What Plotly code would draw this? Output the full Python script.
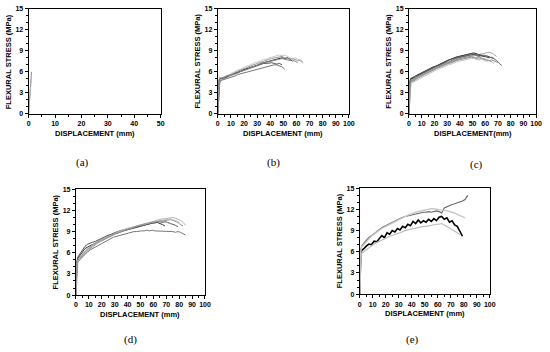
import plotly.graph_objects as go

# ---------------- data ----------------
X_A = [0, 0.2, 0.4, 0.6, 0.8, 1.0, 1.1]
A_CURVES = [
    [0, 1.2, 2.5, 3.6, 4.6, 5.4, 6.0],
    [0, 1.0, 2.2, 3.3, 4.2, 5.0],
]
A_COLORS = ["#8c8c8c", "#b0b0b0"]

X_GRID = [0, 0.4, 0.8, 1.5, 3, 5, 7, 9, 11, 13, 15, 17, 19, 21, 23, 25, 27, 29, 31, 33,
          35, 37, 39, 41, 43, 45, 47, 49, 51, 53, 55, 57, 59, 61, 63, 65, 67, 69, 71, 73,
          75, 77, 79, 81, 83, 85]

B_CURVES = [
    [0, 2.5, 4.6, 5.0, 5.0, 5.1, 5.3, 5.5, 5.6, 5.8, 5.9, 6.1, 6.2, 6.4, 6.5, 6.6, 6.8, 6.9, 7.0, 7.2,
     7.3, 7.4, 7.6, 7.7, 7.8, 7.9, 8.0, 8.0, 7.9, 8.0, 7.8, 7.5],
    [0, 2.0, 4.2, 4.9, 5.1, 5.2, 5.5, 5.6, 5.9, 6.0, 6.3, 6.3, 6.6, 6.7, 6.9, 7.0, 7.2, 7.3, 7.5, 7.6,
     7.8, 7.8, 8.0, 8.1, 8.2, 8.3, 8.4, 8.3, 8.4, 8.2, 8.1, 7.9, 8.0, 7.8, 7.6, 7.2],
    [0, 1.8, 3.8, 4.6, 4.8, 4.9, 5.0, 5.2, 5.3, 5.4, 5.6, 5.7, 5.8, 5.9, 6.0, 6.1, 6.3, 6.4, 6.5, 6.6,
     6.7, 6.8, 6.9, 6.9, 7.0, 7.0, 6.9, 6.7, 6.4],
    [0, 2.2, 4.4, 5.0, 5.1, 5.2, 5.4, 5.5, 5.6, 5.8, 5.9, 6.0, 6.2, 6.3, 6.4, 6.6, 6.7, 6.8, 7.0, 7.1,
     7.2, 7.2, 7.3, 7.3, 7.2, 7.1, 7.2, 7.0],
    [0, 2.4, 4.8, 5.2, 5.1, 5.3, 5.4, 5.6, 5.7, 5.9, 6.1, 6.2, 6.4, 6.5, 6.7, 6.8, 7.0, 7.1, 7.3, 7.4,
     7.5, 7.7, 7.8, 7.9, 8.0, 8.1, 8.1, 8.2, 8.0, 7.9, 7.8, 7.9, 7.8, 7.6, 7.7, 7.4],
    [0, 2.0, 4.0, 4.7, 4.9, 5.0, 5.2, 5.4, 5.5, 5.7, 5.8, 6.0, 6.1, 6.3, 6.4, 6.6, 6.7, 6.9, 7.0, 7.2,
     7.3, 7.4, 7.5, 7.6, 7.7, 7.8, 7.9, 7.9, 7.8, 7.7, 7.6, 7.7, 7.5, 7.3],
]
B_COLORS = ["#111111", "#c8c8c8", "#777777", "#555555", "#999999", "#888888"]

C_CURVES = [
    [0, 2.5, 4.6, 5.0, 5.1, 5.4, 5.6, 5.8, 6.0, 6.2, 6.3, 6.5, 6.7, 6.8, 7.0, 7.2, 7.3, 7.5, 7.7, 7.8,
     8.0, 8.1, 8.2, 8.3, 8.4, 8.5, 8.6, 8.7, 8.7, 8.6, 8.4, 8.3, 8.2],
    [0, 2.2, 4.4, 4.9, 5.0, 5.2, 5.4, 5.6, 5.8, 6.0, 6.2, 6.3, 6.5, 6.7, 6.8, 7.0, 7.1, 7.3, 7.4, 7.6,
     7.7, 7.9, 8.0, 8.1, 8.2, 8.3, 8.4, 8.5, 8.5, 8.4, 8.3, 8.4, 8.2, 8.3, 8.1, 8.0, 7.9],
    [0, 2.0, 4.2, 4.7, 4.8, 5.0, 5.3, 5.5, 5.7, 5.9, 6.0, 6.2, 6.4, 6.5, 6.7, 6.9, 7.0, 7.2, 7.3, 7.5,
     7.6, 7.7, 7.9, 8.0, 8.1, 8.2, 8.3, 8.3, 8.4, 8.3, 8.2, 8.3, 8.4, 8.2, 8.0, 8.1, 7.9, 7.6, 7.2, 6.9],
    [0, 1.8, 4.0, 4.5, 4.6, 4.9, 5.1, 5.3, 5.5, 5.7, 5.9, 6.1, 6.2, 6.4, 6.6, 6.7, 6.9, 7.0, 7.2, 7.3,
     7.5, 7.6, 7.7, 7.8, 7.9, 8.0, 8.1, 8.1, 8.0, 7.9, 7.8, 7.9, 7.8, 7.7, 7.6, 7.7, 7.5, 7.4, 7.3],
    [0, 2.3, 4.5, 4.8, 4.9, 5.1, 5.3, 5.5, 5.7, 5.9, 6.1, 6.3, 6.4, 6.6, 6.8, 6.9, 7.1, 7.2, 7.4, 7.5,
     7.7, 7.8, 7.9, 8.0, 8.1, 8.2, 8.2, 8.3, 8.3, 8.4, 8.4, 8.5, 8.6, 8.7, 8.8, 8.7, 8.5, 8.2],
    [0, 1.6, 3.8, 4.4, 4.5, 4.7, 4.9, 5.1, 5.3, 5.5, 5.7, 5.9, 6.0, 6.2, 6.4, 6.5, 6.7, 6.8, 7.0, 7.1,
     7.3, 7.4, 7.5, 7.6, 7.7, 7.8, 7.8, 7.9, 7.9, 7.8, 7.7, 7.8, 7.6, 7.5, 7.6, 7.4, 7.2],
    [0, 2.4, 4.8, 5.1, 5.2, 5.3, 5.5, 5.7, 5.9, 6.1, 6.3, 6.4, 6.6, 6.8, 6.9, 7.1, 7.3, 7.4, 7.6, 7.8,
     7.9, 8.0, 8.2, 8.3, 8.4, 8.5, 8.5, 8.6, 8.5, 8.4, 8.5, 8.3, 8.2, 8.1, 8.0],
    [0, 2.0, 4.3, 4.6, 4.7, 5.0, 5.2, 5.4, 5.6, 5.8, 6.0, 6.1, 6.3, 6.5, 6.6, 6.8, 6.9, 7.1, 7.2, 7.4,
     7.5, 7.6, 7.8, 7.9, 8.0, 8.1, 8.1, 8.2, 8.1, 8.0, 8.1, 8.0, 7.9, 7.8, 7.7, 7.5],
]
C_COLORS = ["#222222", "#444444", "#666666", "#888888", "#aaaaaa", "#c0c0c0", "#555555", "#999999"]

D_CURVES = [
    [0, 2.6, 4.6, 5.2, 5.6, 6.2, 6.6, 6.8, 7.0, 7.2, 7.4, 7.6, 7.7, 7.9, 8.1, 8.3, 8.4, 8.6, 8.7, 8.9,
     9.0, 9.1, 9.3, 9.4, 9.5, 9.6, 9.7, 9.8, 9.9, 10.0, 10.1, 10.2, 10.2, 10.3, 10.3, 10.2, 10.0, 9.8],
    [0, 2.2, 4.2, 4.8, 5.0, 5.4, 5.8, 6.1, 6.4, 6.6, 6.9, 7.1, 7.3, 7.5, 7.7, 7.9, 8.0, 8.2, 8.3, 8.4,
     8.6, 8.7, 8.8, 8.8, 8.9, 9.0, 9.0, 9.1, 9.1, 9.1, 9.2, 9.1, 9.2, 9.1, 9.1, 9.0, 9.1, 9.0, 9.1, 9.0,
     9.0, 8.9, 9.0, 8.9, 8.7, 8.5],
    [0, 2.4, 4.5, 5.0, 5.3, 5.8, 6.3, 6.6, 6.9, 7.2, 7.4, 7.6, 7.8, 8.0, 8.2, 8.4, 8.6, 8.8, 8.9, 9.1,
     9.2, 9.3, 9.5, 9.6, 9.7, 9.8, 9.9, 10.0, 10.1, 10.2, 10.3, 10.4, 10.5, 10.6, 10.7, 10.7, 10.8, 10.8,
     10.9, 11.0, 11.0, 10.9, 10.8, 10.6, 10.3, 9.9],
    [0, 2.0, 4.0, 4.7, 5.0, 5.5, 5.9, 6.3, 6.6, 6.9, 7.2, 7.4, 7.6, 7.8, 8.0, 8.2, 8.4, 8.5, 8.7, 8.8,
     9.0, 9.1, 9.2, 9.4, 9.5, 9.6, 9.7, 9.8, 9.9, 10.0, 10.1, 10.2, 10.3, 10.3, 10.4, 10.5, 10.5, 10.6,
     10.6, 10.7, 10.6, 10.5, 10.3, 10.0, 9.8],
    [0, 2.8, 4.8, 5.4, 5.8, 6.4, 6.9, 7.2, 7.4, 7.5, 7.6, 7.8, 7.9, 8.1, 8.3, 8.5, 8.6, 8.8, 8.9, 9.0,
     9.1, 9.2, 9.3, 9.4, 9.5, 9.6, 9.7, 9.8, 9.9, 10.0, 10.0, 10.1, 10.2, 10.2, 10.3, 10.4, 10.3, 10.4,
     10.3, 10.2, 10.0, 9.9, 9.7],
    [0, 2.3, 4.3, 4.9, 5.1, 5.6, 6.0, 6.4, 6.7, 7.0, 7.3, 7.5, 7.7, 7.9, 8.1, 8.3, 8.5, 8.7, 8.8, 9.0,
     9.1, 9.3, 9.4, 9.5, 9.6, 9.7, 9.8, 9.9, 10.0, 10.1, 10.2, 10.3, 10.4, 10.4, 10.5, 10.6, 10.6, 10.7,
     10.7, 10.8, 10.7, 10.6, 10.4, 10.1],
    [0, 2.5, 4.4, 5.0, 5.2, 5.7, 6.1, 6.5, 6.8, 7.1, 7.3, 7.5, 7.7, 7.9, 8.1, 8.3, 8.4, 8.6, 8.8, 8.9,
     9.0, 9.2, 9.3, 9.4, 9.5, 9.6, 9.8, 9.9, 10.0, 10.1, 10.2, 10.2, 10.3, 10.4, 10.4, 10.5, 10.5, 10.4,
     10.3, 10.2, 10.0],
]
D_COLORS = ["#333333", "#777777", "#b0b0b0", "#888888", "#555555", "#c0c0c0", "#999999"]

E_CURVES = [
    [0, 3.5, 5.6, 6.2, 6.4, 6.8, 7.1, 7.0, 7.5, 7.4, 7.9, 8.3, 8.0, 8.7, 8.5, 9.0, 8.8, 9.3, 9.1, 9.6,
     9.4, 9.9, 9.7, 10.3, 10.0, 10.5, 10.1, 10.4, 10.2, 10.6, 10.3, 10.7, 10.4, 10.9, 11.0, 10.6, 10.8,
     10.2, 10.4, 9.8, 9.6, 9.0, 8.2],
    [0, 4.0, 6.2, 6.8, 7.2, 7.6, 8.0, 8.3, 8.6, 8.8, 9.1, 9.4, 9.6, 9.8, 10.0, 10.2, 10.4, 10.5, 10.7,
     10.9, 11.0, 11.1, 11.2, 11.3, 11.4, 11.4, 11.5, 11.6, 11.6, 11.7, 11.6, 11.7, 11.8, 11.7, 11.5,
     12.2, 12.4, 12.5, 12.7, 12.8, 12.9, 13.0, 13.2, 13.4, 14.0],
    [0, 3.8, 6.0, 6.7, 7.0, 7.4, 7.9, 8.2, 8.5, 8.8, 9.0, 9.3, 9.5, 9.7, 9.9, 10.1, 10.3, 10.5, 10.7,
     10.9, 11.0, 11.2, 11.3, 11.5, 11.6, 11.7, 11.8, 11.9, 12.0, 12.0, 12.1, 12.1, 12.0, 12.0, 11.9,
     11.9, 11.8, 11.8, 11.6, 11.5, 11.3, 11.1, 11.0, 10.8],
    [0, 3.0, 5.2, 5.8, 6.0, 6.3, 6.6, 6.9, 7.1, 7.3, 7.5, 7.7, 7.9, 8.0, 8.2, 8.3, 8.5, 8.6, 8.7, 8.9,
     9.0, 9.1, 9.2, 9.3, 9.3, 9.4, 9.5, 9.6, 9.6, 9.7, 9.8, 9.8, 9.9, 9.9, 10.0, 9.8, 9.6, 9.4, 9.2,
     9.0, 8.7, 8.4],
]
E_COLORS = ["#000000", "#666666", "#c8c8c8", "#bdbdbd"]
E_WIDTHS = [1.6, 1.2, 1.4, 1.2]

Y_TICKS = [0, 3, 6, 9, 12, 15]
Y_TITLE = "FLEXURAL STRESS (MPa)"
X_TITLES = ["DISPLACEMENT (mm)", "DISPLACEMENT (mm)", "DISPLACEMENT(mm)",
            "DISPLACEMENT (mm)", "DISPLACEMENT (mm)"]
CAPTIONS = ["(a)", "(b)", "(c)", "(d)", "(e)"]

# ---------------- layout helpers ----------------
W, H = 550, 352
def fx(px):
    return px / W
def fy(py):
    return 1 - py / H

# panel boxes in pixels: left, right, top, bottom
PANELS = [
    (27, 161, 5, 112),
    (219, 352, 5, 112),
    (413, 542, 5, 112),
    (75, 206, 189, 297),
    (363, 495, 188, 296),
]
X_MAX = [50, 100, 100, 100, 100]

fig = go.Figure()

FONT = "Liberation Sans"

def add_curves(idx, xs_list, curves, colors, widths=None):
    xa = "x" if idx == 0 else f"x{idx+1}"
    ya = "y" if idx == 0 else f"y{idx+1}"
    for k, (ys, col) in enumerate(zip(curves, colors)):
        xs = xs_list[:len(ys)]
        w = widths[k] if widths else 1
        fig.add_trace(go.Scatter(x=xs, y=ys, mode="lines",
                                 line=dict(color=col, width=w),
                                 xaxis=xa, yaxis=ya, showlegend=False,
                                 hoverinfo="skip", cliponaxis=False))

add_curves(0, X_A, A_CURVES, A_COLORS)
add_curves(1, X_GRID, B_CURVES, B_COLORS)
add_curves(2, X_GRID, C_CURVES, C_COLORS)
add_curves(3, X_GRID, D_CURVES, D_COLORS)
add_curves(4, X_GRID, E_CURVES, E_COLORS, E_WIDTHS)

tickfont = dict(family=FONT, size=7, color="black", weight="bold")
annotations = []
for i, (l, r, t, b) in enumerate(PANELS):
    suffix = "" if i == 0 else str(i + 1)
    fig.layout["xaxis" + suffix] = dict(
        domain=[fx(l), fx(r)], range=[0, X_MAX[i]], dtick=10,
        anchor="y" + suffix, ticks="outside", ticklen=3, tickwidth=1,
        tickcolor="black", showline=True, linecolor="black", linewidth=1,
        mirror=True, showgrid=False, zeroline=False, tickfont=tickfont,
        minor=dict(dtick=5, ticks="outside", ticklen=2, tickcolor="black"),
        fixedrange=True,
    )
    fig.layout["yaxis" + suffix] = dict(
        domain=[fy(b), fy(t)], range=[0, 15], tickvals=Y_TICKS,
        anchor="x" + suffix, ticks="outside", ticklen=3, tickwidth=1,
        tickcolor="black", showline=True, linecolor="black", linewidth=1,
        mirror=True, showgrid=False, zeroline=False, tickfont=tickfont,
        minor=dict(dtick=1, ticks="outside", ticklen=2, tickcolor="black"),
        fixedrange=True,
    )
    annotations.append(dict(
        x=fx(l - 21), y=fy((t + b) / 2), xref="paper", yref="paper",
        text=Y_TITLE, textangle=-90, showarrow=False,
        font=dict(family=FONT, size=7.5, color="black", weight="bold"),
        xanchor="center", yanchor="middle"))
    annotations.append(dict(
        x=fx((l + r) / 2), y=fy(b + 20), xref="paper", yref="paper",
        text=X_TITLES[i], showarrow=False,
        font=dict(family=FONT, size=7.5, color="black", weight="bold"),
        xanchor="center", yanchor="middle"))

CAPTION_POS = [(82, 162), (275, 162), (482, 164), (130, 342), (417, 342)]
for cap, (cx, cy) in zip(CAPTIONS, CAPTION_POS):
    annotations.append(dict(
        x=fx(cx), y=fy(cy), xref="paper", yref="paper", text=cap,
        showarrow=False, font=dict(family="Liberation Serif", size=11, color="black"),
        xanchor="center", yanchor="middle"))

fig.update_layout(
    width=W, height=H, margin=dict(l=0, r=0, t=0, b=0),
    paper_bgcolor="white", plot_bgcolor="white",
    annotations=annotations, showlegend=False,
)

fig.write_html(
    "out.html",
    config={"displayModeBar": False},
    post_script="document.body.style.margin='0';document.body.style.overflow='hidden';",
)
